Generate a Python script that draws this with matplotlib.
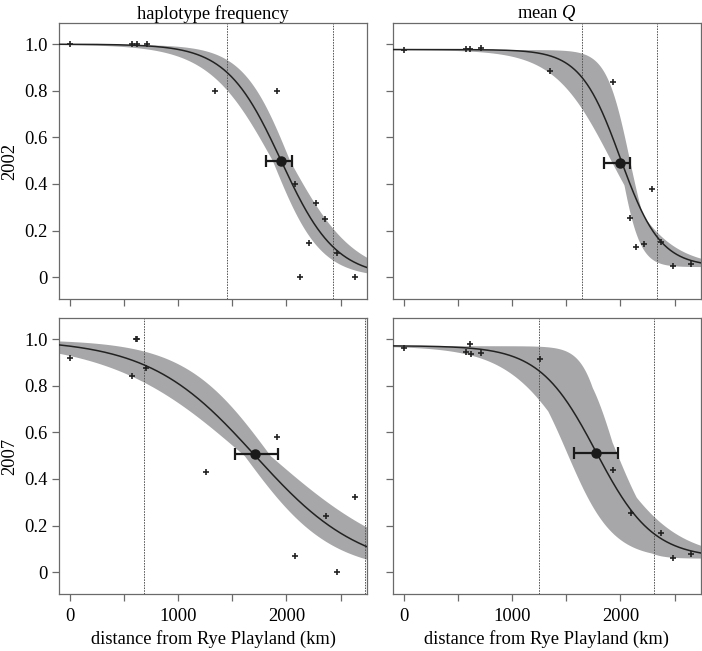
import numpy as np
import matplotlib
matplotlib.use("Agg")
import matplotlib.pyplot as plt
from matplotlib.ticker import FixedLocator, FixedFormatter

plt.rcParams['font.family'] = ['Liberation Serif', 'DejaVu Serif']
plt.rcParams['mathtext.fontset'] = 'custom'
plt.rcParams['mathtext.it'] = 'Liberation Serif:italic'
plt.rcParams['mathtext.rm'] = 'Liberation Serif'

# ---------------- data ----------------
col_titles = ["haplotype frequency", "mean $Q$"]
row_labels = ["2002", "2007"]

# sample points (distance km, value)
hap02_x = [0, 573, 616, 708, 1340, 1910, 2076, 2125, 2208, 2276, 2359, 2469, 2631]
hap02_y = [1.0, 1.0, 1.0, 1.0, 0.80, 0.80, 0.40, 0.0, 0.145, 0.318, 0.249, 0.103, 0.0]
q02_x = [0, 567, 610, 709, 1347, 1927, 2091, 2144, 2221, 2292, 2376, 2488, 2652]
q02_y = [0.976, 0.978, 0.978, 0.983, 0.884, 0.839, 0.252, 0.129, 0.142, 0.380, 0.149, 0.049, 0.056]
hap07_x = [0, 569, 605, 615, 701, 1255, 1912, 2079, 2362, 2469, 2632]
hap07_y = [0.918, 0.843, 1.0, 1.0, 0.878, 0.431, 0.579, 0.070, 0.239, 0.0, 0.322]
q07_x = [0, 567, 611, 617, 710, 1259, 1929, 2099, 2378, 2490, 2654]
q07_y = [0.964, 0.945, 0.980, 0.938, 0.940, 0.914, 0.440, 0.254, 0.168, 0.062, 0.077]

# fitted cline parameters: centre, width, pmax, pmin
hap02_cline = [1950, 1010, 1.0, 0.0]
q02_cline = [1998, 740, 0.977, 0.045]
hap07_cline = [1710, 1970, 1.0, 0.0]
q07_cline = [1774, 1050, 0.972, 0.06]

# confidence region of (centre, width) as polygon vertices
hap02_ci_c = [1870, 1870, 2030, 2030]
hap02_ci_w = [880, 1200, 1200, 880]
q02_ci_c = [1900, 2080, 1986]
q02_ci_w = [1050, 430, 368]
hap07_ci_c = [1610, 1610, 1850, 1850]
hap07_ci_w = [1600, 2500, 2500, 1600]
q07_ci_c = [1890, 1950, 1960, 1850, 1583, 1500]
q07_ci_w = [430, 600, 817, 1300, 1258, 850]

# cline centre estimate with support limits
hap02_mid = [1947, 0.50, 1809, 2054]
q02_mid = [1998, 0.49, 1849, 2091]
hap07_mid = [1710, 0.505, 1525, 1925]
q07_mid = [1774, 0.511, 1572, 1978]

# dotted vertical reference lines (km)
hap02_vl = [1451, 2429]
q02_vl = [1646, 2337]
hap07_vl = [678, 2722]
q07_vl = [1248, 2306]

xlabel = "distance from Rye Playland (km)"
xticks = [0, 500, 1000, 1500, 2000, 2500]
xticklabels = ["0", "", "1000", "", "2000", ""]
yticks = [0, 0.2, 0.4, 0.6, 0.8, 1.0]
yticklabels = ["0", "0.2", "0.4", "0.6", "0.8", "1.0"]

panels = [
    (hap02_x, hap02_y, hap02_cline, hap02_ci_c, hap02_ci_w, hap02_mid, hap02_vl),
    (q02_x, q02_y, q02_cline, q02_ci_c, q02_ci_w, q02_mid, q02_vl),
    (hap07_x, hap07_y, hap07_cline, hap07_ci_c, hap07_ci_w, hap07_mid, hap07_vl),
    (q07_x, q07_y, q07_cline, q07_ci_c, q07_ci_w, q07_mid, q07_vl),
]


def cline(x, c, w, pmax, pmin):
    return pmin + (pmax - pmin) / (1.0 + np.exp(4.0 * (x - c) / w))


W, H = 702, 651
fig = plt.figure(figsize=(W / 100, H / 100), dpi=100)

ax_rects = [
    (59, 23, 308, 276), (393, 23, 308, 276),
    (59, 318, 308, 276), (393, 318, 308, 276),
]
XLIM = (-105, 2745)
YLIM = (-0.094, 1.091)
SPINE = '#6a6a6a'
BAND = '#a7a7a9'
FS = 13.3

xs = np.linspace(XLIM[0], XLIM[1], 600)

for i, (px, py, cl, cic, ciw, mid, vl) in enumerate(panels):
    l, t, w, h = ax_rects[i]
    ax = fig.add_axes([l / W, 1 - (t + h) / H, w / W, h / H])
    ax.set_xlim(*XLIM)
    ax.set_ylim(*YLIM)

    # band: envelope of clines over boundary of the confidence polygon
    cc = list(cic) + [cic[0]]
    ww = list(ciw) + [ciw[0]]
    curves = []
    for k in range(len(cic)):
        for tt in np.linspace(0, 1, 40):
            c_ = cc[k] + tt * (cc[k + 1] - cc[k])
            w_ = ww[k] + tt * (ww[k + 1] - ww[k])
            curves.append(cline(xs, c_, w_, cl[2], cl[3]))
    curves = np.array(curves)
    ax.fill_between(xs, curves.min(axis=0), curves.max(axis=0),
                    color=BAND, lw=0, zorder=1)

    ax.plot(xs, cline(xs, *cl), color='#222222', lw=1.1, zorder=3)

    for v in vl:
        ax.axvline(v, color='#555555', lw=0.7, ls=(0, (1.6, 1.2)), zorder=2)

    ax.plot(px, py, ls='none', marker='+', ms=5, mew=1.2, color='#222222', zorder=4)

    ax.errorbar([mid[0]], [mid[1]], xerr=[[mid[0] - mid[2]], [mid[3] - mid[0]]],
                fmt='o', ms=6.5, color='#1a1a1a', ecolor='#1a1a1a',
                elinewidth=1.6, capsize=4, capthick=1.6, zorder=5)

    for s in ax.spines.values():
        s.set_color(SPINE)
        s.set_linewidth(0.9)
    ax.xaxis.set_major_locator(FixedLocator(xticks))
    ax.yaxis.set_major_locator(FixedLocator(yticks))
    ax.tick_params(direction='out', length=5, width=0.9, color=SPINE,
                   labelsize=FS, pad=3)
    ax.tick_params(axis='x', pad=5)
    if i >= 2:
        ax.xaxis.set_major_formatter(FixedFormatter(xticklabels))
        ax.set_xlabel(xlabel, fontsize=FS, labelpad=4)
    else:
        ax.set_xticklabels([])
    if i % 2 == 0:
        ax.yaxis.set_major_formatter(FixedFormatter(yticklabels))
    else:
        ax.set_yticklabels([])
    if i < 2:
        ax.set_title(col_titles[i], fontsize=FS, pad=3)
    if i % 2 == 0:
        fig.text(10 / W, 1 - (t + h / 2) / H, row_labels[i // 2], rotation=90,
                 ha='center', va='center', fontsize=FS)

fig.savefig("out.png", dpi=100)
